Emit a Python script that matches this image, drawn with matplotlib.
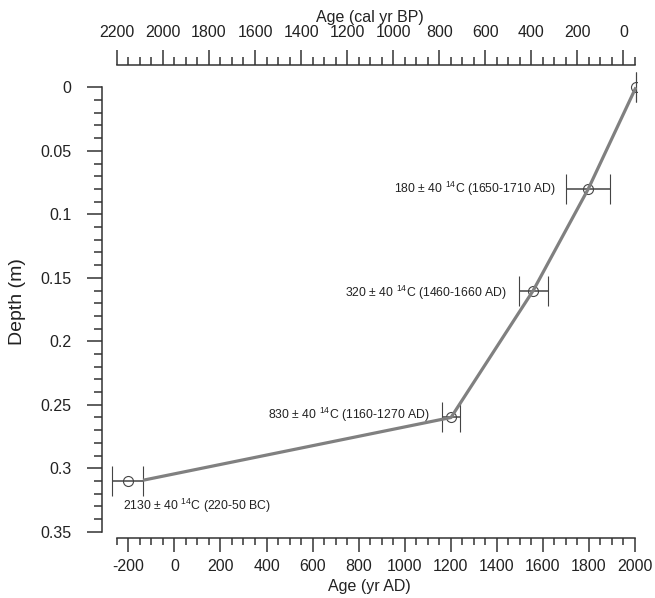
import numpy as np
import matplotlib
matplotlib.use("Agg")
import matplotlib.pyplot as plt
from matplotlib.ticker import FixedLocator

plt.rcParams['font.family'] = ['Liberation Sans', 'DejaVu Sans']
plt.rcParams['mathtext.default'] = 'regular'
plt.rcParams['axes.unicode_minus'] = False

# radiocarbon dates (calibrated, yr AD) with depth
date_age = [2004, 1797, 1558, 1201, -203]
date_err = [0, 96, 63, 38, 67]
date_depth = [0.0, 0.08, 0.16, 0.26, 0.31]
date_label = [None,
              "180 ± 40 $^{14}$C (1650-1710 AD)",
              "320 ± 40 $^{14}$C (1460-1660 AD)",
              "830 ± 40 $^{14}$C (1160-1270 AD)",
              "2130 ± 40 $^{14}$C (220-50 BC)"]

# age-depth model line
model_age = [-136, 1201, 1558, 1797, 2004]
model_depth = [0.3094, 0.26, 0.16, 0.08, 0.0]

depth_ticks = [0, 0.05, 0.1, 0.15, 0.2, 0.25, 0.3, 0.35]
depth_ticklabels = ['0', '0.05', '0.1', '0.15', '0.2', '0.25', '0.3', '0.35']
ad_ticks = np.arange(-200, 2001, 200)
bp_ticks = np.arange(0, 2201, 200)

ink = '#333333'
txt = '#222222'

fig = plt.figure(figsize=(6.55, 5.98), dpi=100)
ax = fig.add_axes([102/655, 1 - 538/598, 535.3/655, 473/598])

ax.plot(model_age, model_depth, color='#808080', lw=2.3, zorder=3,
        solid_capstyle='butt')
ax.errorbar(date_age, date_depth, xerr=date_err, fmt='o', ms=7.2,
            mfc='none', mec='#444444', mew=0.8, ecolor='#444444',
            elinewidth=1.1, capsize=11, capthick=1.1, zorder=2)

# label offsets in points: (dx, dy, ha, va)
label_offsets = [None,
                 (-7.4, 0.0, 'right', 'center'),
                 (-8.4, -1.5, 'right', 'center'),
                 (-9.0, 2.0, 'right', 'center'),
                 (-3.2, -18.0, 'left', 'center')]
for a, e, d, lab, off in zip(date_age, date_err, date_depth, date_label, label_offsets):
    if lab is None:
        continue
    dx, dy, ha, va = off
    x0 = a - e if ha == 'right' else a
    ax.annotate(lab, xy=(x0, d), xytext=(dx, dy), textcoords='offset points',
                ha=ha, va=va, fontsize=8.8, color=txt)

ax.set_xlim(-314.4, 2010)
ax.set_ylim(0.3549, -0.0176)

for s in ['top', 'right']:
    ax.spines[s].set_visible(False)
ax.spines['left'].set_bounds(0, 0.35)
ax.spines['bottom'].set_bounds(-250, 2000)
for s in ['left', 'bottom']:
    ax.spines[s].set_linewidth(1.1)
    ax.spines[s].set_color(ink)

ax.set_yticks(depth_ticks)
ax.set_yticklabels(depth_ticklabels)
ax.yaxis.set_minor_locator(FixedLocator(np.linspace(0, 0.35, 36)))
ax.set_xticks(ad_ticks)
ax.set_xticks(np.arange(-250, 2001, 50), minor=True)

ax.tick_params(axis='y', which='major', length=11, width=1.1, pad=11,
               labelsize=11.5, color=ink, labelcolor=txt)
ax.tick_params(axis='y', which='minor', length=5.5, width=1.1, color=ink)
ax.tick_params(axis='x', which='major', length=10, width=1.1, pad=5,
               labelsize=11.5, color=ink, labelcolor=txt)
ax.tick_params(axis='x', which='minor', length=5, width=1.1, color=ink)

ax.set_ylabel("Depth (m)", fontsize=14, labelpad=10, color=txt)
ax.set_xlabel("Age (yr AD)", fontsize=11.5, labelpad=4, color=txt)

# top axis in cal yr BP
ax2 = ax.twiny()
ax2.set_xlim(1950 + 314.4, 1950 - 2010)
for s in ['bottom', 'left', 'right']:
    ax2.spines[s].set_visible(False)
ax2.spines['top'].set_bounds(2200, -50)
ax2.spines['top'].set_linewidth(1.1)
ax2.spines['top'].set_color(ink)
ax2.set_xticks(bp_ticks)
ax2.set_xticks(np.arange(-50, 2201, 50), minor=True)
ax2.tick_params(axis='x', which='major', length=11, width=1.1, pad=7,
                labelsize=11.5, color=ink, labelcolor=txt)
ax2.tick_params(axis='x', which='minor', length=5.5, width=1.1, color=ink)
ax2.set_xlabel("Age (cal yr BP)", fontsize=11.5, labelpad=2, color=txt)

fig.savefig("out.png", dpi=100)
